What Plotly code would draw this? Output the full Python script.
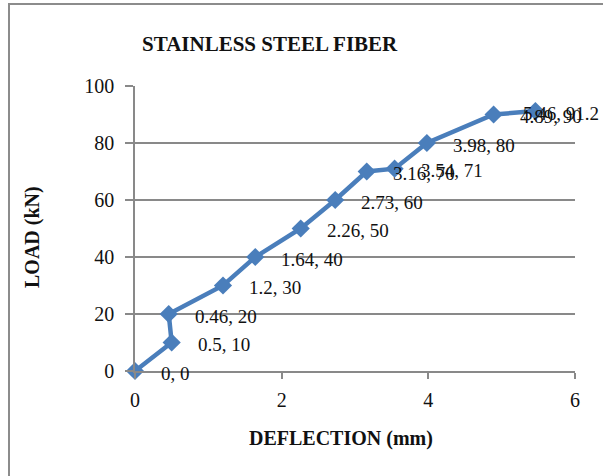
import plotly.graph_objects as go

deflection = [0, 0.5, 0.46, 1.2, 1.64, 2.26, 2.73, 3.16, 3.54, 3.98, 4.89, 5.46]
load = [0, 10, 20, 30, 40, 50, 60, 70, 71, 80, 90, 91.2]
x_ticks = [0, 2, 4, 6]
y_ticks = [0, 20, 40, 60, 80, 100]
title_text = "STAINLESS STEEL FIBER"
x_title = "DEFLECTION (mm)"
y_title = "LOAD (kN)"

SERIF = "Liberation Serif, Times New Roman, serif"
BLUE = "#4A7EBB"
GRID = "#898989"

fig = go.Figure()
fig.add_trace(go.Scatter(
    x=deflection, y=load, mode="lines+markers",
    line=dict(color=BLUE, width=4.5),
    marker=dict(symbol="diamond", size=14, color=BLUE),
    cliponaxis=False, showlegend=False,
))

annotations = []
n = len(deflection)
for i, (xv, yv) in enumerate(zip(deflection, load)):
    txt = f"{xv:g}, {yv:g}"
    if i == n - 1:
        annotations.append(dict(x=xv, y=yv, xref="x", yref="y", text=txt,
                                showarrow=False, xanchor="right", xshift=66, yshift=-2,
                                font=dict(family=SERIF, size=19, color="#111")))
    else:
        annotations.append(dict(x=xv, y=yv, xref="x", yref="y", text=txt,
                                showarrow=False, xanchor="left", xshift=24, yshift=-2,
                                font=dict(family=SERIF, size=19, color="#111")))

# titles
annotations.append(dict(x=0.307, y=1.0 + (86 - 44) / 285, xref="paper", yref="paper",
                        text=f"<b>{title_text}</b>", showarrow=False,
                        xanchor="center", yanchor="middle",
                        font=dict(family=SERIF, size=21, color="#111")))
annotations.append(dict(x=(341 - 135) / 440, y=-(438 - 371) / 285, xref="paper", yref="paper",
                        text=f"<b>{x_title}</b>", showarrow=False,
                        xanchor="center", yanchor="middle",
                        font=dict(family=SERIF, size=20, color="#111")))
annotations.append(dict(x=(32 - 135) / 440, y=(371 - 237) / 285, xref="paper", yref="paper",
                        text=f"<b>{y_title}</b>", showarrow=False, textangle=-90,
                        xanchor="center", yanchor="middle",
                        font=dict(family=SERIF, size=20, color="#111")))

fig.update_layout(
    width=603, height=476,
    margin=dict(l=135, r=28, t=86, b=105),
    paper_bgcolor="white", plot_bgcolor="white",
    annotations=annotations,
    shapes=[dict(type="rect", xref="paper", yref="paper",
                 x0=(9 - 135) / 440, x1=1.2, y0=-0.6, y1=1.0 + (86 - 4) / 285,
                 line=dict(color="#8c8c8c", width=2), fillcolor="rgba(0,0,0,0)", layer="below")],
    xaxis=dict(range=[0, 6], tickvals=x_ticks, showgrid=False, zeroline=False,
               showline=True, linecolor=GRID, linewidth=1.5,
               ticks="outside", ticklen=6, tickcolor=GRID, tickwidth=1.5,
               tickfont=dict(family=SERIF, size=20, color="#111"),
               ticklabelstandoff=4),
    yaxis=dict(range=[0, 100], tickvals=y_ticks, showgrid=True, gridcolor=GRID, gridwidth=1.5,
               zeroline=False, showline=True, linecolor=GRID, linewidth=1.5,
               ticks="outside", ticklen=8, tickcolor=GRID, tickwidth=1.5,
               tickfont=dict(family=SERIF, size=20, color="#111"),
               ticklabelstandoff=7),
)

fig.write_html("out.html")
